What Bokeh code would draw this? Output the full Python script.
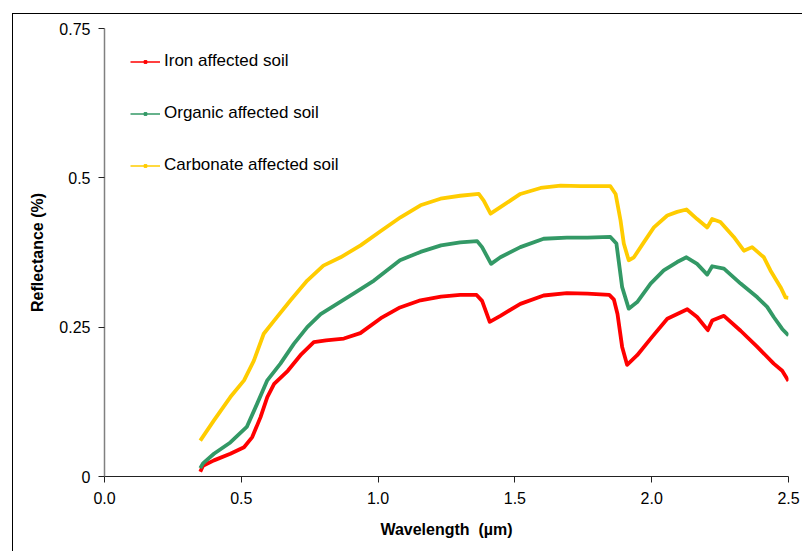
from bokeh.plotting import figure
from bokeh.models import Range1d, FixedTicker, Legend, LegendItem
from bokeh.embed import file_html
from bokeh.resources import INLINE

# ---- data ----
iron_w = [0.35, 0.36, 0.40, 0.46, 0.51, 0.54, 0.57, 0.595, 0.62, 0.67, 0.72, 0.765, 0.81, 0.875,
          0.935, 1.01, 1.08, 1.155, 1.23, 1.30, 1.36, 1.38, 1.408, 1.447, 1.52, 1.605, 1.69, 1.765,
          1.845, 1.862, 1.875, 1.892, 1.91, 1.947, 2.00, 2.057, 2.13, 2.166, 2.205, 2.221, 2.264,
          2.325, 2.386, 2.446, 2.477, 2.50]
iron_r = [0.008, 0.018, 0.027, 0.038, 0.049, 0.066, 0.099, 0.133, 0.155, 0.177, 0.205, 0.225, 0.228, 0.231,
          0.240, 0.265, 0.283, 0.295, 0.301, 0.304, 0.304, 0.294, 0.259, 0.269, 0.289, 0.303, 0.307, 0.306,
          0.304, 0.296, 0.272, 0.217, 0.187, 0.203, 0.233, 0.264, 0.280, 0.267, 0.245, 0.261, 0.269,
          0.244, 0.217, 0.189, 0.177, 0.160]

org_w = [0.35, 0.36, 0.40, 0.46, 0.52, 0.558, 0.595, 0.643, 0.692, 0.741, 0.79, 0.85, 0.91, 0.985,
         1.08, 1.155, 1.23, 1.30, 1.362, 1.38, 1.413, 1.447, 1.52, 1.605, 1.69, 1.765, 1.849, 1.871,
         1.892, 1.916, 1.947, 1.996, 2.044, 2.093, 2.127, 2.166, 2.203, 2.221, 2.264, 2.325, 2.386,
         2.422, 2.446, 2.477, 2.50]
org_r = [0.014, 0.022, 0.038, 0.057, 0.083, 0.122, 0.161, 0.189, 0.222, 0.250, 0.272, 0.289, 0.306, 0.328,
         0.362, 0.376, 0.387, 0.392, 0.394, 0.384, 0.356, 0.367, 0.384, 0.398, 0.400, 0.400, 0.401, 0.390,
         0.317, 0.281, 0.292, 0.323, 0.345, 0.359, 0.367, 0.356, 0.338, 0.352, 0.348, 0.323, 0.300,
         0.284, 0.267, 0.247, 0.236]

carb_w = [0.35, 0.40, 0.46, 0.51, 0.546, 0.582, 0.62, 0.68, 0.741, 0.80, 0.863, 0.936, 1.01, 1.082,
          1.155, 1.228, 1.30, 1.368, 1.386, 1.411, 1.447, 1.52, 1.594, 1.667, 1.74, 1.849, 1.868, 1.886,
          1.898, 1.916, 1.935, 1.971, 2.008, 2.057, 2.093, 2.127, 2.166, 2.203, 2.221, 2.251, 2.30,
          2.337, 2.367, 2.41, 2.434, 2.471, 2.489, 2.50]
carb_r = [0.060, 0.094, 0.133, 0.161, 0.194, 0.239, 0.261, 0.295, 0.328, 0.353, 0.367, 0.387, 0.411, 0.434,
          0.454, 0.465, 0.470, 0.473, 0.462, 0.440, 0.451, 0.473, 0.483, 0.487, 0.486, 0.486, 0.473, 0.429,
          0.390, 0.362, 0.367, 0.392, 0.417, 0.437, 0.443, 0.447, 0.431, 0.417, 0.431, 0.426, 0.401,
          0.378, 0.384, 0.367, 0.345, 0.317, 0.300, 0.299]

series_names = ["Iron affected soil", "Organic affected soil", "Carbonate affected soil"]
series_colors = ["#FF0000", "#339966", "#FFCC00"]

x_ticks = [0.0, 0.5, 1.0, 1.5, 2.0, 2.5]
x_tick_labels = ["0.0", "0.5", "1.0", "1.5", "2.0", "2.5"]
y_ticks = [0.0, 0.25, 0.5, 0.75]
y_tick_labels = ["0", "0.25", "0.5", "0.75"]

FONT = "Liberation Sans"

p = figure(width=790, height=538, output_backend="svg", toolbar_location=None,
           x_range=Range1d(0, 2.5), y_range=Range1d(0, 0.75),
           min_border_left=91, min_border_right=15, min_border_top=14, min_border_bottom=76)
p.styles = {"margin-left": "12px", "margin-top": "13px",
            "border-left": "1px solid black", "border-top": "1px solid black"}
p.outline_line_color = None
p.xgrid.visible = False
p.ygrid.visible = False
p.background_fill_color = "white"
p.border_fill_color = "white"

# axes
p.xaxis.ticker = FixedTicker(ticks=x_ticks)
p.xaxis.major_label_overrides = {t: l for t, l in zip(x_ticks, x_tick_labels)}
p.yaxis.ticker = FixedTicker(ticks=y_ticks)
p.yaxis.major_label_overrides = {t: l for t, l in zip(y_ticks, y_tick_labels)}
for ax in (p.xaxis, p.yaxis):
    ax.minor_tick_line_color = None
    ax.major_tick_in = 0
    ax.major_tick_out = 6
    ax.major_tick_line_color = "#222222"
    ax.major_label_text_font = FONT
    ax.major_label_text_font_size = "16px"
    ax.major_label_text_color = "black"
    ax.axis_label_text_font = FONT
    ax.axis_label_text_font_style = "bold"
    ax.axis_label_text_font_size = "16px"
    ax.axis_label_text_color = "black"
p.xaxis.axis_line_color = "#222222"
p.yaxis.axis_line_color = "#808080"
p.yaxis.axis_line_width = 1.5
p.xaxis.axis_label = "Wavelength\u00a0 (\u00b5m)"
p.yaxis.axis_label = "Reflectance (%)"
p.xaxis.major_label_standoff = 9
p.yaxis.major_label_standoff = 8
p.xaxis.axis_label_standoff = 14
p.yaxis.axis_label_standoff = 10

items = []
for name, col, w, r in zip(series_names, series_colors, [iron_w, org_w, carb_w], [iron_r, org_r, carb_r]):
    p.line(w, r, line_color=col, line_width=3.8, line_join="round")
    # legend-only swatches, placed outside the visible ranges
    lg_line = p.line(x=[-10, -9], y=[-10, -10], line_color=col, line_width=1.5)
    lg_mark = p.scatter(x=[-10], y=[-10], marker="square", size=3, fill_color=col, line_color=col)
    items.append(LegendItem(label=name, renderers=[lg_line, lg_mark]))

leg = Legend(items=items, location=(26, 301), orientation="vertical")
leg.glyph_width = 30
leg.glyph_height = 7
leg.label_height = 20
leg.spacing = 32
leg.padding = 0
leg.margin = 0
leg.label_standoff = 4
leg.border_line_color = None
leg.background_fill_alpha = 0
leg.label_text_font = FONT
leg.label_text_font_size = "17px"
leg.label_text_color = "black"
p.add_layout(leg, "center")

open("out.html", "w").write(file_html(p, INLINE))
